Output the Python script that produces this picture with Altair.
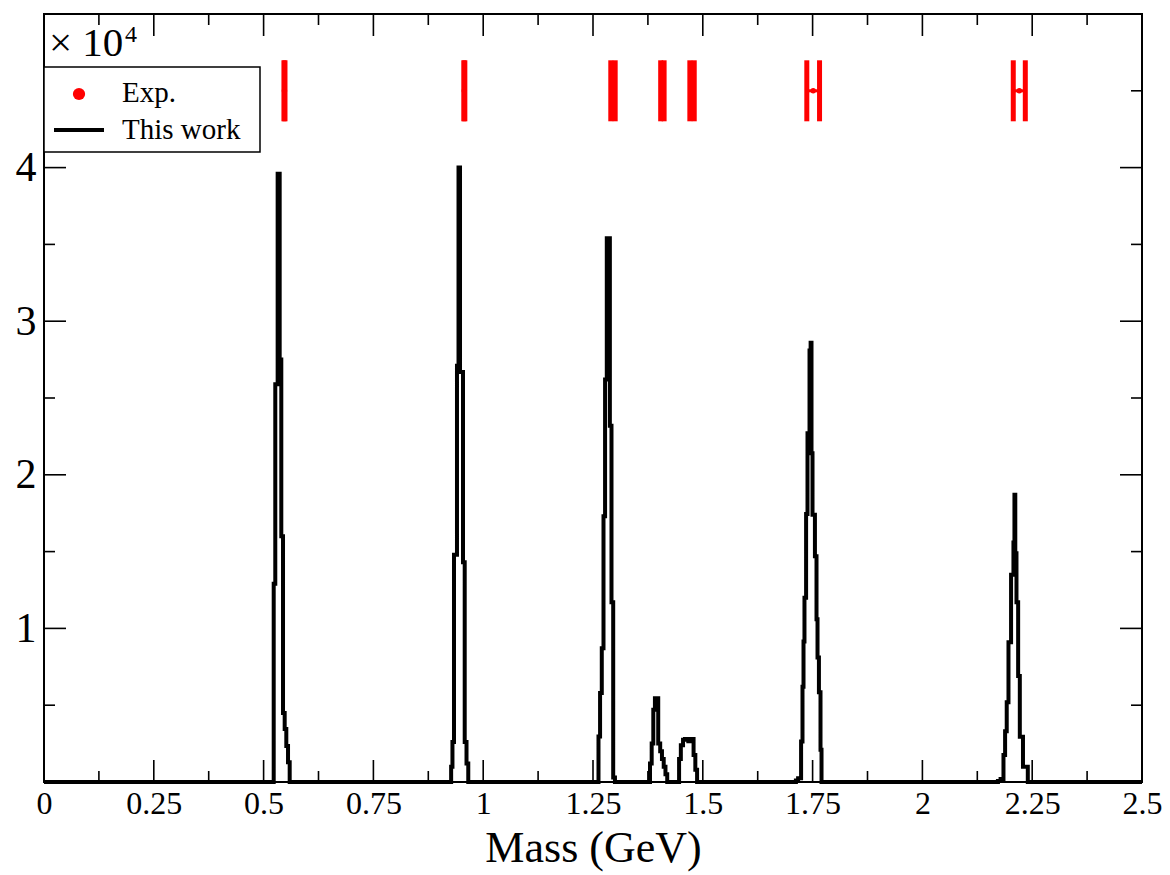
import altair as alt
import pandas as pd

# ---- Theory curve ("This work"), drawn as a staircase ----
# Each pair: mass (GeV) where the level changes, and the counts from there on.
peak1_m = [0.523, 0.5266, 0.532, 0.5366, 0.5403, 0.5442, 0.548, 0.5517, 0.5556, 0.5594]
peak1_n = [12900, 25900, 39600, 27500, 16000, 4500, 3450, 2350, 1280, 0]

peak2_m = [0.927, 0.930, 0.9335, 0.9403, 0.9438, 0.9472, 0.954, 0.9579, 0.962, 0.966]
peak2_n = [1000, 2600, 14800, 27100, 40000, 26700, 14300, 2600, 1200, 0]

peak3_m = [1.2625, 1.2661, 1.270, 1.2739, 1.2775, 1.2814, 1.2884, 1.2921, 1.296, 1.300]
peak3_n = [2960, 5800, 8700, 17300, 26200, 35400, 23200, 11700, 300, 0]

peak4_m = [1.3798, 1.3836, 1.3873, 1.391, 1.3985, 1.403, 1.407, 1.411, 1.415, 1.419]
peak4_n = [1200, 2500, 4700, 5450, 2500, 2000, 1500, 1000, 500, 0]

peak5_m = [1.446, 1.450, 1.455, 1.4595, 1.467, 1.4725, 1.479, 1.483, 1.487]
peak5_n = [1500, 2400, 2750, 2800, 2650, 2800, 1750, 800, 0]

peak6_m = [1.712, 1.717, 1.7238, 1.727, 1.7293, 1.7315, 1.7352, 1.7384, 1.7430, 1.7455,
           1.7475, 1.7498, 1.7553, 1.7589, 1.7612, 1.7644, 1.768, 1.7703]
peak6_n = [100, 250, 2630, 6200, 9150, 12000, 17450, 22700, 28100, 28600,
           21400, 17400, 14700, 10600, 8100, 5850, 2100, 0]

peak7_m = [2.172, 2.178, 2.1846, 2.1883, 2.192, 2.196, 2.2019, 2.2073, 2.2096,
           2.2115, 2.2142, 2.218, 2.2218, 2.229, 2.240]
peak7_n = [60, 200, 1760, 3300, 5200, 9100, 13500, 15600, 18700,
           14900, 11700, 6900, 2950, 1000, 0]

mass_range = [0.0, 2.5]

# ---- Experimental masses (GeV) with half-widths ----
exp_mass = [0.5475, 0.957, 1.2955, 1.408, 1.4755, 1.7513, 2.2206]
exp_err = [0.0012, 0.0012, 0.005, 0.0039, 0.005, 0.0145, 0.0137]
exp_level = 45000

# ---- Axis ticks ----
x_major = [0, 0.25, 0.5, 0.75, 1, 1.25, 1.5, 1.75, 2, 2.25, 2.5]
x_minor = [0.125, 0.375, 0.625, 0.875, 1.125, 1.375, 1.625, 1.875, 2.125, 2.375]
y_major = [10000, 20000, 30000, 40000]
y_minor = [5000, 15000, 25000, 35000, 45000]

W, H = 1098, 768
SERIF = "Liberation Serif"

masses = [mass_range[0]]
counts = [0]
for m, n in [(peak1_m, peak1_n), (peak2_m, peak2_n), (peak3_m, peak3_n), (peak4_m, peak4_n),
             (peak5_m, peak5_n), (peak6_m, peak6_n), (peak7_m, peak7_n)]:
    masses += m
    counts += n
masses.append(mass_range[1])
counts.append(0)
curve_df = pd.DataFrame({"mass": masses, "counts": counts, "i": range(len(masses))})

exp_df = pd.DataFrame({"mass": exp_mass, "err": exp_err, "counts": [exp_level] * len(exp_mass)})

x_scale = alt.Scale(domain=[0, 2.5], nice=False, zero=False)
y_scale = alt.Scale(domain=[0, 50000], nice=False)

x_axis = alt.Axis(values=x_major, labelExpr="format(datum.value, '.3~g')", title="Mass (GeV)",
                  grid=False, domain=False, ticks=False, tickSize=0, labelFont=SERIF,
                  labelFontSize=32, labelColor="black", labelPadding=6, labelOverlap=False,
                  labelFlush=False, titleFont=SERIF, titleFontSize=44, titleFontWeight="normal",
                  titleColor="black", titlePadding=7)
y_axis = alt.Axis(values=y_major, labelExpr="datum.value / 10000", title=None, grid=False,
                  domain=False, ticks=False, tickSize=0, labelFont=SERIF, labelFontSize=42,
                  labelColor="black", labelPadding=8, labelOverlap=False, labelFlush=False)


def xq(field):
    return alt.X(f"{field}:Q", scale=x_scale, axis=x_axis)


def yq(field):
    return alt.Y(f"{field}:Q", scale=y_scale, axis=y_axis)


curve = alt.Chart(curve_df).mark_line(color="black", strokeWidth=4, interpolate="step-after").encode(
    x=xq("mass"), y=yq("counts"), order="i:Q"
)

exp_base = alt.Chart(exp_df).transform_calculate(
    lo="datum.mass - datum.err", hi="datum.mass + datum.err"
)
exp_bar = exp_base.mark_rule(color="red", strokeWidth=3).encode(
    x=xq("lo"), x2="hi:Q", y=yq("counts")
)
exp_cap_lo = exp_base.mark_tick(color="red", orient="vertical", size=61, thickness=5, opacity=1).encode(
    x=xq("lo"), y=yq("counts")
)
exp_cap_hi = exp_base.mark_tick(color="red", orient="vertical", size=61, thickness=5, opacity=1).encode(
    x=xq("hi"), y=yq("counts")
)
exp_dot = exp_base.mark_point(color="red", filled=True, size=30, opacity=1).encode(
    x=xq("mass"), y=yq("counts")
)

# Inward ticks on all four sides
xmaj = pd.DataFrame({"mass": x_major})
xmin = pd.DataFrame({"mass": x_minor})
ymaj = pd.DataFrame({"counts": y_major})
ymin = pd.DataFrame({"counts": y_minor})


def xticks(df, length):
    bottom = alt.Chart(df).mark_rule(color="black", strokeWidth=1.6).encode(
        x=xq("mass"), y=alt.value(H), y2=alt.value(H - length))
    top = alt.Chart(df).mark_rule(color="black", strokeWidth=1.6).encode(
        x=xq("mass"), y=alt.value(0), y2=alt.value(length))
    return [bottom, top]


def yticks(df, length):
    left = alt.Chart(df).mark_rule(color="black", strokeWidth=1.6).encode(
        y=yq("counts"), x=alt.value(0), x2=alt.value(length))
    right = alt.Chart(df).mark_rule(color="black", strokeWidth=1.6).encode(
        y=yq("counts"), x=alt.value(W), x2=alt.value(W - length))
    return [left, right]


ticks = xticks(xmaj, 22) + xticks(xmin, 11) + yticks(ymaj, 22) + yticks(ymin, 11)

one = pd.DataFrame({"k": [0]})

# Scale-factor note at the top of the y axis
mult = alt.Chart(one).mark_text(font=SERIF, fontSize=41, align="left", baseline="alphabetic",
                                color="black").encode(
    x=alt.value(5), y=alt.value(42), text=alt.value("× 10"))
mult_exp = alt.Chart(one).mark_text(font=SERIF, fontSize=24, align="left", baseline="alphabetic",
                                    color="black").encode(
    x=alt.value(81), y=alt.value(28), text=alt.value("4"))

# Legend
leg_box = alt.Chart(one).mark_rect(fill="white", stroke="black", strokeWidth=1.5).encode(
    x=alt.value(0), x2=alt.value(216), y=alt.value(53), y2=alt.value(138))
leg_dot = alt.Chart(one).mark_point(color="red", filled=True, size=150, shape="circle", opacity=1).encode(
    x=alt.value(35), y=alt.value(80))
leg_line = alt.Chart(one).mark_rule(color="black", strokeWidth=4).encode(
    x=alt.value(10), x2=alt.value(60), y=alt.value(116))
leg_exp = alt.Chart(one).mark_text(font=SERIF, fontSize=29, align="left", baseline="alphabetic",
                                   color="black").encode(
    x=alt.value(78), y=alt.value(88), text=alt.value("Exp."))
leg_work = alt.Chart(one).mark_text(font=SERIF, fontSize=29, align="left", baseline="alphabetic",
                                    color="black").encode(
    x=alt.value(78), y=alt.value(125), text=alt.value("This work"))

chart = alt.layer(
    curve, exp_bar, exp_cap_lo, exp_cap_hi, exp_dot, *ticks,
    mult, mult_exp, leg_box, leg_dot, leg_line, leg_exp, leg_work
).properties(
    width=W, height=H,
    autosize=alt.AutoSizeParams(type="none"),
    padding={"left": 44, "top": 14, "right": 28, "bottom": 93},
    background="white",
).configure_view(stroke="black", strokeWidth=2)

chart.save("out.html", embed_options={"renderer": "svg", "actions": False})
